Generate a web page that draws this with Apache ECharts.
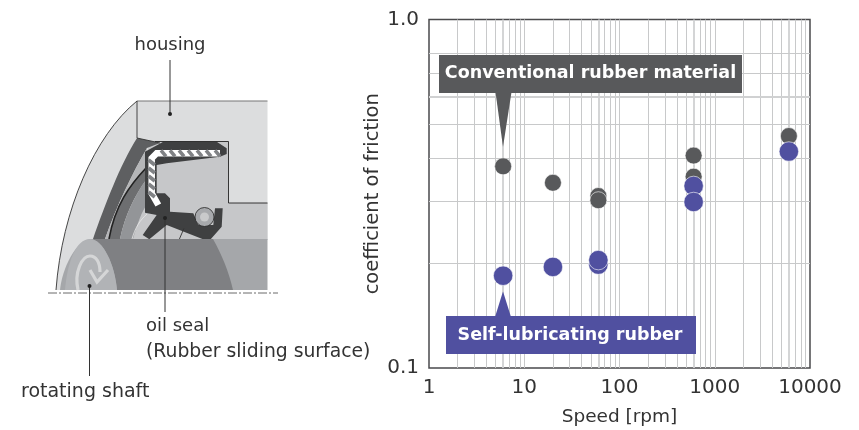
<!DOCTYPE html>
<html>
<head>
<meta charset="utf-8">
<style>html,body{margin:0;padding:0;background:#fff}#c{width:859px;height:430px}</style>
<script src="https://cdn.jsdelivr.net/npm/echarts@6/dist/echarts.min.js"></script>
</head>
<body>
<div id="c"></div>
<script>
var speedGrid = [2,3,4,5,7,8,9,10,20,30,40,50,70,80,90,100,200,300,400,500,700,800,900,1000,2000,3000,4000,5000,7000,8000,9000];
var speedGridHeavy = [6,60,600,6000];
var frictionGrid = [0.2,0.3,0.4,0.5,0.7,0.8];
var frictionGridHeavy = [0.6];
var conventional = [[6,0.379],[20,0.340],[60,0.3115],[60,0.303],[600,0.407],[600,0.354],[6000,0.463]];
var selfLubricating = [[6,0.184],[20,0.195],[60,0.198],[60,0.204],[600,0.333],[600,0.2995],[6000,0.418]];
var FONT = '"DejaVu Sans"';
var DARK = '#58595b', BLUE = '#5050a0', GRID = '#c8c9ca';

var shapeCount = 0;
function p(d, fill, stroke, w, extra){
  var st = {fill: fill || 'none', stroke: stroke || 'none', lineWidth: w || 0};
  if (extra) for (var k in extra) st[k] = extra[k];
  var name = 'artShape' + (shapeCount++);
  echarts.graphic.registerShape(name, echarts.graphic.extendPath(d, {}));
  return {type:name, shape:{}, style:st, silent:true};
}
function t(x,y,s,size,color,align,weight,z){
  return {type:'text', x:x, y:y, z:z||0, silent:true, style:{text:s, fill:color||'#333', font:(weight||'normal')+' '+(size||16)+'px '+FONT, textAlign:align||'left', textVerticalAlign:'middle'}};
}
var hatch = '';
for (var hx = 161; hx < 216; hx += 9) hatch += 'M'+hx+',150.3L'+(hx+5)+',156.3';
for (var hy = 160; hy < 198; hy += 8) hatch += 'M148.6,'+hy+'L154.8,'+(hy+5);

var art = [
  p('M137,101L267.5,101L267.5,240L60,290L56,290C62,210 95,135 137,101Z','#dcddde'),
  p('M150,141.5L228.5,141.5L228.5,203L267.5,203L267.5,240L125,240Z','#c6c7c9'),
  p('M137,138C120,165 105,205 93,239L105,239C117,205 133,172 147,148L160,143Z','#5e5f61'),
  p('M147,148C133,172 117,205 105,239L109,239C115,205 130,185 146,168Z','#b5b6b8'),
  p('M146,168C130,185 115,205 109,239L120,239C125,215 135,195 146,180Z','#6d6e70'),
  p('M146,180C135,195 125,215 120,239L133,239C137,225 142,210 147,205Z','#939598'),
  p('M146,168C130,185 115,205 109,239','none','#222',1.6),
  p('M132,239C135,228 140,220 147,214','none','#e8e8e8',0.8),
  p('M145,151.7L163.3,141.7L216.7,141.7L226.7,148.3L226.7,154L220,156.7L166.7,163.3L156.7,165L156.7,193.3L165,193.3L170,198.3L170,211.7L193.3,213.3L198.3,225L213.3,225L215,208.3L222.7,208.3L221.7,226.7L210,240L205,240L166.7,225L149.3,239.3L142.7,235L156.7,215L145,212.7Z','#3f4041'),
  {type:'circle', shape:{cx:204.5,cy:217,r:9.5}, style:{fill:'#a7a9ac',stroke:'#222',lineWidth:0.8}, silent:true},
  {type:'circle', shape:{cx:204.5,cy:217,r:4.5}, style:{fill:'#c9cacb'}, silent:true},
  p('M220,153.3L156.7,153.3L151.7,158.3L151.7,193.3L158.3,205','none','#ffffff',6.5),
  p(hatch,'none','#808285',3.6),
  p('M179.3,239.3L184,228.3','none','#333',0.9),
  p('M93,239L213,239L267.5,239L267.5,290L60,290C62,270 75,239 93,239Z','#a5a7aa'),
  p('M90,239L213,239C222,255 229,272 233,290L117,290C115,265 103,239 90,239Z','#7f8083'),
  p('M90,239C75,239 67,265 65,290L117,290C115,265 103,239 90,239Z','#b1b3b6'),
  p('M78,290C74,272 82,256 90,256C96,256 100,262 100,272','none','#d5d6d7',3.2),
  p('M90,270L97,282L108,270','none','#d5d6d7',3.2),
  p('M137,101L267.5,101','none','#777',1.2),
  p('M137,101L137,138L160,143','none','#333',0.9),
  p('M137,101C95,135 62,210 56,290','none','#333',0.9),
  p('M155,141.5L228.5,141.5L228.5,203L267.5,203','none','#222',0.9),
  p('M48,293L278,293','none','#444',0.8,{lineDash:[9,2,2,2]}),
  p('M170,60L170,114','none','#333',1),
  {type:'circle', shape:{cx:170,cy:114,r:2}, style:{fill:'#222'}, silent:true},
  p('M165,218L165,312','none','#333',1),
  {type:'circle', shape:{cx:165,cy:218,r:2}, style:{fill:'#222'}, silent:true},
  p('M89.5,286L89.5,376','none','#333',1),
  {type:'circle', shape:{cx:89.5,cy:286,r:2}, style:{fill:'#222'}, silent:true},
  t(170,45,'housing',18,'#333','center'),
  t(146,326,'oil seal',18),
  t(146,352,'(Rubber sliding surface)',18.8),
  t(21,392,'rotating shaft',19)
];
var notes = [
  {type:'rect', z:10, silent:true, shape:{x:439,y:55,width:303,height:38}, style:{fill:DARK}},
  {type:'polygon', z:10, silent:true, shape:{points:[[495.5,92],[511.5,92],[503,147]]}, style:{fill:DARK}},
  t(590.5,73.5,'Conventional rubber material',17.5,'#fff','center','bold',11),
  {type:'rect', z:10, silent:true, shape:{x:446,y:316,width:250,height:38}, style:{fill:BLUE}},
  {type:'polygon', z:10, silent:true, shape:{points:[[495,317],[511,317],[503,291.5]]}, style:{fill:BLUE}},
  t(570,335,'Self-lubricating rubber',17.5,'#fff','center','bold',11)
];

function gridItems(arr, key, heavy){
  return arr.map(function(v){
    var o = {}; o[key] = v;
    o.lineStyle = heavy ? {color:'#d0d1d2', width:1.8, type:'solid'} : {color:GRID, width:1, type:'solid'};
    return o;
  });
}
var lines = [].concat(
  gridItems(speedGrid,'xAxis'), gridItems(speedGridHeavy,'xAxis',true),
  gridItems(frictionGrid,'yAxis'), gridItems(frictionGridHeavy,'yAxis',true));

var chart = echarts.init(document.getElementById('c'), null, {renderer:'canvas'});
chart.setOption({
  animation:false,
  textStyle:{fontFamily:FONT},
  grid:{left:429,right:49,top:19.5,bottom:62,show:true,borderColor:'#4a4a4c',borderWidth:1.5,backgroundColor:'transparent',outerBoundsMode:'none'},
  xAxis:{type:'log',logBase:10,min:1,max:10000,name:'Speed [rpm]',nameLocation:'middle',nameGap:40,
    nameTextStyle:{fontSize:18.5,color:'#333',fontFamily:FONT},
    axisLine:{show:false},axisTick:{show:false},splitLine:{show:false},minorSplitLine:{show:false},
    axisLabel:{fontSize:20,color:'#333',margin:10,fontFamily:FONT,hideOverlap:false,formatter:function(v){return String(Math.round(v));}}},
  yAxis:{type:'log',logBase:10,min:0.1,max:1,name:'coefficient of friction',nameLocation:'middle',nameGap:44,
    nameTextStyle:{fontSize:19.5,color:'#333',fontFamily:FONT},
    axisLine:{show:false},axisTick:{show:false},splitLine:{show:false},minorSplitLine:{show:false},
    axisLabel:{fontSize:20,color:'#333',margin:10,fontFamily:FONT,formatter:function(v){return v.toFixed(1);}}},
  graphic:{elements:art.concat(notes)},
  series:[
    {type:'scatter',data:[],z:1,silent:true,markLine:{z:1,silent:true,symbol:['none','none'],label:{show:false},animation:false,data:lines}},
    {type:'scatter',name:'Conventional rubber material',data:conventional,symbol:'circle',symbolSize:17,z:3,silent:true,
      itemStyle:{color:DARK,borderColor:'#fff',borderWidth:0.6,opacity:1}},
    {type:'scatter',name:'Self-lubricating rubber',data:selfLubricating,symbol:'circle',symbolSize:19.5,z:4,silent:true,
      itemStyle:{color:BLUE,borderColor:'#fff',borderWidth:0.6,opacity:1}}
  ]
});
</script>
</body>
</html>
